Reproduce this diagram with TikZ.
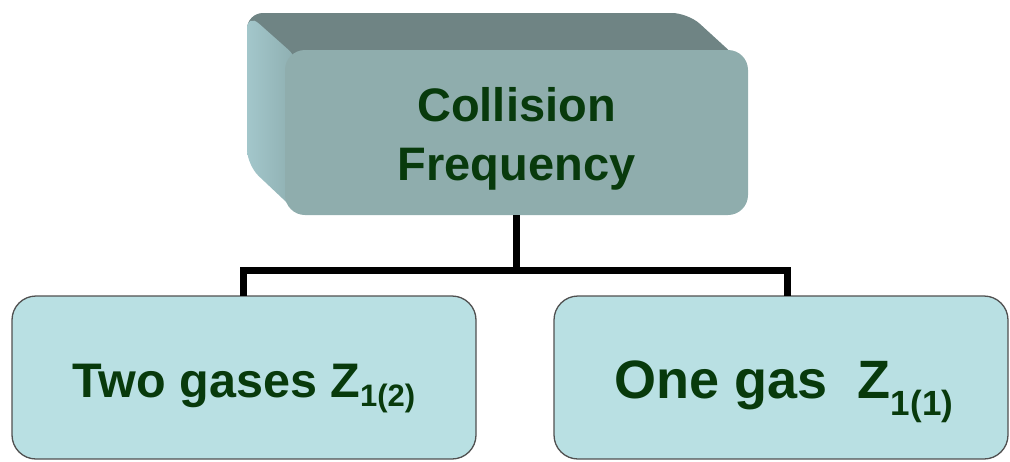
\documentclass[tikz,border=0pt]{standalone}
\usepackage{fontspec}
\setmainfont{Liberation Sans}
\definecolor{frontc}{RGB}{143,173,173}
\definecolor{topc}{RGB}{111,132,132}
\definecolor{sidelight}{RGB}{163,199,203}
\definecolor{sidedark}{RGB}{140,172,174}
\definecolor{boxc}{RGB}{185,224,227}
\definecolor{edgec}{RGB}{80,80,80}
\definecolor{txtc}{RGB}{8,58,12}
\tikzset{
  frontbox/.style={rectangle, rounded corners=20pt, fill=frontc, minimum width=463pt, minimum height=165pt, inner sep=0pt, align=center, text=txtc, font=\bfseries\fontsize{47}{58}\selectfont},
  leafbox/.style={rectangle, rounded corners=24pt, fill=boxc, draw=edgec, line width=1.3pt, minimum height=163pt, inner sep=0pt, text=txtc, text depth=1pt},
  conn/.style={line width=7pt, line join=miter, black},
}
\begin{document}
\begin{tikzpicture}[x=1pt,y=-1pt]
\useasboundingbox (0,0) rectangle (1010,461);
% extrusion of the top box
\fill[topc, rounded corners=16pt] (247,13) -- (688,13) -- (746,66) -- (285,66) -- (247,80) -- cycle;
\shade[left color=sidelight, right color=sidedark, rounded corners=16pt] (247,13) -- (300,60) -- (300,215) -- (247,165) -- cycle;
% front face
\node[frontbox] (top) at (516.5,132.5) {\rule{0pt}{46pt}Collision\\[1pt]Frequency};
% leaf boxes
\node[leafbox, minimum width=464pt, text height=40pt, font=\bfseries\fontsize{48.5}{56}\selectfont] (left) at (244,377.5)
  {Two gases Z\raisebox{-9pt}{\fontsize{31}{31}\selectfont 1(2)}};
\node[leafbox, minimum width=454pt, text height=42pt, font=\bfseries\fontsize{54}{60}\selectfont] (right) at (781,377.5)
  {\hspace*{6pt}One gas\ \ Z\raisebox{-17pt}{\fontsize{35}{35}\selectfont 1(1)}};
% connectors
\coordinate (bar) at (516.5,270.5);
\coordinate (lj) at (243,296);
\coordinate (rj) at (787,296);
\draw[conn] (top.south) -- (bar);
\draw[conn] (lj) -- (lj |- bar) -- (rj |- bar) -- (rj);
\end{tikzpicture}
\end{document}
